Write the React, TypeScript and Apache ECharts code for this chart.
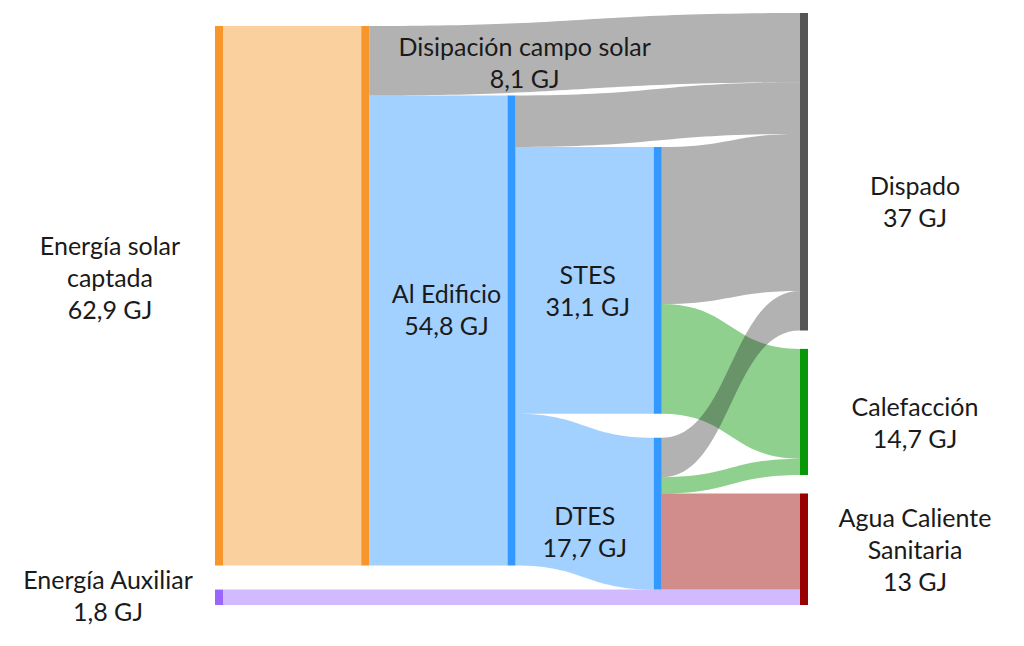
import React, { useEffect, useRef } from "react";
import * as echarts from "echarts";

// ---------- data ----------
const nodeIds = [
  "Energía solar captada",
  "Campo solar",
  "Energía Auxiliar",
  "Al Edificio",
  "STES",
  "DTES",
  "Dispado",
  "Calefacción",
  "Agua Caliente Sanitaria",
];
const nodeLabels = [
  "Energía solar\ncaptada",
  "",
  "Energía Auxiliar",
  "Al Edificio",
  "STES",
  "DTES",
  "Dispado",
  "Calefacción",
  "Agua Caliente\nSanitaria",
];
const linkSources = [
  "Energía solar captada",
  "Campo solar",
  "Campo solar",
  "Al Edificio",
  "Al Edificio",
  "Al Edificio",
  "STES",
  "STES",
  "DTES",
  "DTES",
  "DTES",
  "Energía Auxiliar",
];
const linkTargets = [
  "Campo solar",
  "Dispado",
  "Al Edificio",
  "Dispado",
  "STES",
  "DTES",
  "Dispado",
  "Calefacción",
  "Dispado",
  "Calefacción",
  "Agua Caliente Sanitaria",
  "Agua Caliente Sanitaria",
];
const linkValues = [62.9, 8.1, 54.8, 6.0, 31.1, 17.7, 18.3, 12.8, 4.6, 1.9, 11.2, 1.8];
const flowLabel = "Disipación campo solar";

// ---------- styles ----------
const nodeColors: Record<string, string> = {
  "Energía solar captada": "#F7962B",
  "Campo solar": "#F7962B",
  "Energía Auxiliar": "#9966FF",
  "Al Edificio": "#3399FF",
  STES: "#3399FF",
  DTES: "#3399FF",
  Dispado: "#555555",
  "Calefacción": "#079707",
  "Agua Caliente Sanitaria": "#990000",
};
const FONT = "Lato";
const FS = 25;
const LH = 32;
const TXT = "#1a1a1a";
const TOP = 13;
const LEFT = 215;
const H = 592;
const W = 593;
const GAP = 18.5;
const NODE_W = 8;

function fmt(v: number) {
  return v.toFixed(1).replace(".", ",").replace(/,0$/, "") + " GJ";
}

export default function App() {
  const ref = useRef<HTMLDivElement>(null);
  useEffect(() => {
    if (!ref.current) return;
    const chart = echarts.init(ref.current, null, { renderer: "svg" });

    const sumIn = (n: string) =>
      linkTargets.reduce((s, t, i) => (t === n ? s + linkValues[i] : s), 0);
    const sumOut = (n: string) =>
      linkSources.reduce((s, t, i) => (t === n ? s + linkValues[i] : s), 0);
    const total = (n: string) => Math.max(sumIn(n), sumOut(n));
    const flow = (a: string, b: string) => {
      for (let i = 0; i < linkValues.length; i++)
        if (linkSources[i] === a && linkTargets[i] === b) return linkValues[i];
      return 0;
    };

    // scale identical to the sankey layout (last column limits it)
    const lastCol = ["Dispado", "Calefacción", "Agua Caliente Sanitaria"];
    const ky = (H - (lastCol.length - 1) * GAP) / lastCol.reduce((s, n) => s + total(n), 0);

    // node tops (px inside layout), aligned with flows
    const top: Record<string, number> = {};
    top["Dispado"] = 0;
    top["Calefacción"] = total("Dispado") * ky + GAP;
    top["Agua Caliente Sanitaria"] = top["Calefacción"] + total("Calefacción") * ky + GAP;
    top["Energía solar captada"] = 13;
    top["Campo solar"] = top["Energía solar captada"];
    top["Al Edificio"] = top["Campo solar"] + flow("Campo solar", "Dispado") * ky;
    top["STES"] = top["Al Edificio"] + flow("Al Edificio", "Dispado") * ky;
    top["DTES"] =
      top["Agua Caliente Sanitaria"] -
      (flow("DTES", "Dispado") + flow("DTES", "Calefacción")) * ky;
    top["Energía Auxiliar"] =
      top["Agua Caliente Sanitaria"] + flow("DTES", "Agua Caliente Sanitaria") * ky;

    const labelPos: Record<string, any> = {
      "Energía solar captada": { position: "left", distance: 105, offset: [0, -19] },
      "Energía Auxiliar": { position: "left", distance: 107, offset: [0, -2] },
      "Al Edificio": { position: "left", distance: 61, offset: [0, -22] },
      STES: { position: "left", distance: 66, offset: [0, 10] },
      DTES: { position: "left", distance: 69, offset: [0, 17] },
      Dispado: { position: "right", distance: 107, offset: [0, 29] },
      "Calefacción": { position: "right", distance: 107, offset: [0, 10] },
      "Agua Caliente Sanitaria": { position: "right", distance: 107, offset: [0, 0] },
    };

    const data = nodeIds.map((n, i) => ({
      name: n,
      localY: top[n] / H,
      itemStyle: { color: nodeColors[n], borderWidth: 0 },
      label: nodeLabels[i]
        ? {
            show: true,
            align: "center",
            verticalAlign: "middle",
            formatter: nodeLabels[i] + "\n" + fmt(total(n)),
            ...labelPos[n],
          }
        : { show: false },
    }));

    const links = linkValues.map((v, i) => {
      const tgt = linkTargets[i];
      const src = linkSources[i];
      const isGray = tgt === "Dispado";
      const c = isGray ? "#222222" : src === "Energía Auxiliar" ? nodeColors[src] : nodeColors[tgt];
      const l: any = {
        source: src,
        target: tgt,
        value: v,
        lineStyle: { color: c, opacity: isGray ? 0.35 : 0.45, curveness: 0.5 },
      };
      if (src === "Campo solar" && tgt === "Dispado") {
        l.edgeLabel = {
          show: true,
          formatter: flowLabel + "\n" + fmt(v),
          fontFamily: FONT,
          fontSize: FS,
          lineHeight: LH,
          color: TXT,
          align: "center",
          verticalAlign: "middle",
          offset: [-60, 8],
        };
      }
      return l;
    });

    chart.setOption({
      animation: false,
      backgroundColor: "#ffffff",
      series: [
        {
          type: "sankey",
          left: LEFT,
          top: TOP,
          width: W,
          height: H,
          nodeWidth: NODE_W,
          nodeGap: GAP,
          layoutIterations: 0,
          nodeAlign: "justify",
          draggable: false,
          emphasis: { disabled: true },
          label: {
            fontFamily: FONT,
            fontSize: FS,
            lineHeight: LH,
            color: TXT,
          },
          edgeLabel: { show: false },
          lineStyle: { curveness: 0.5 },
          data,
          links,
        },
      ],
    });
    return () => chart.dispose();
  }, []);
  return (
    <div
      ref={ref}
      style={{ position: "absolute", left: 0, top: 0, width: 1024, height: 646 }}
    />
  );
}
